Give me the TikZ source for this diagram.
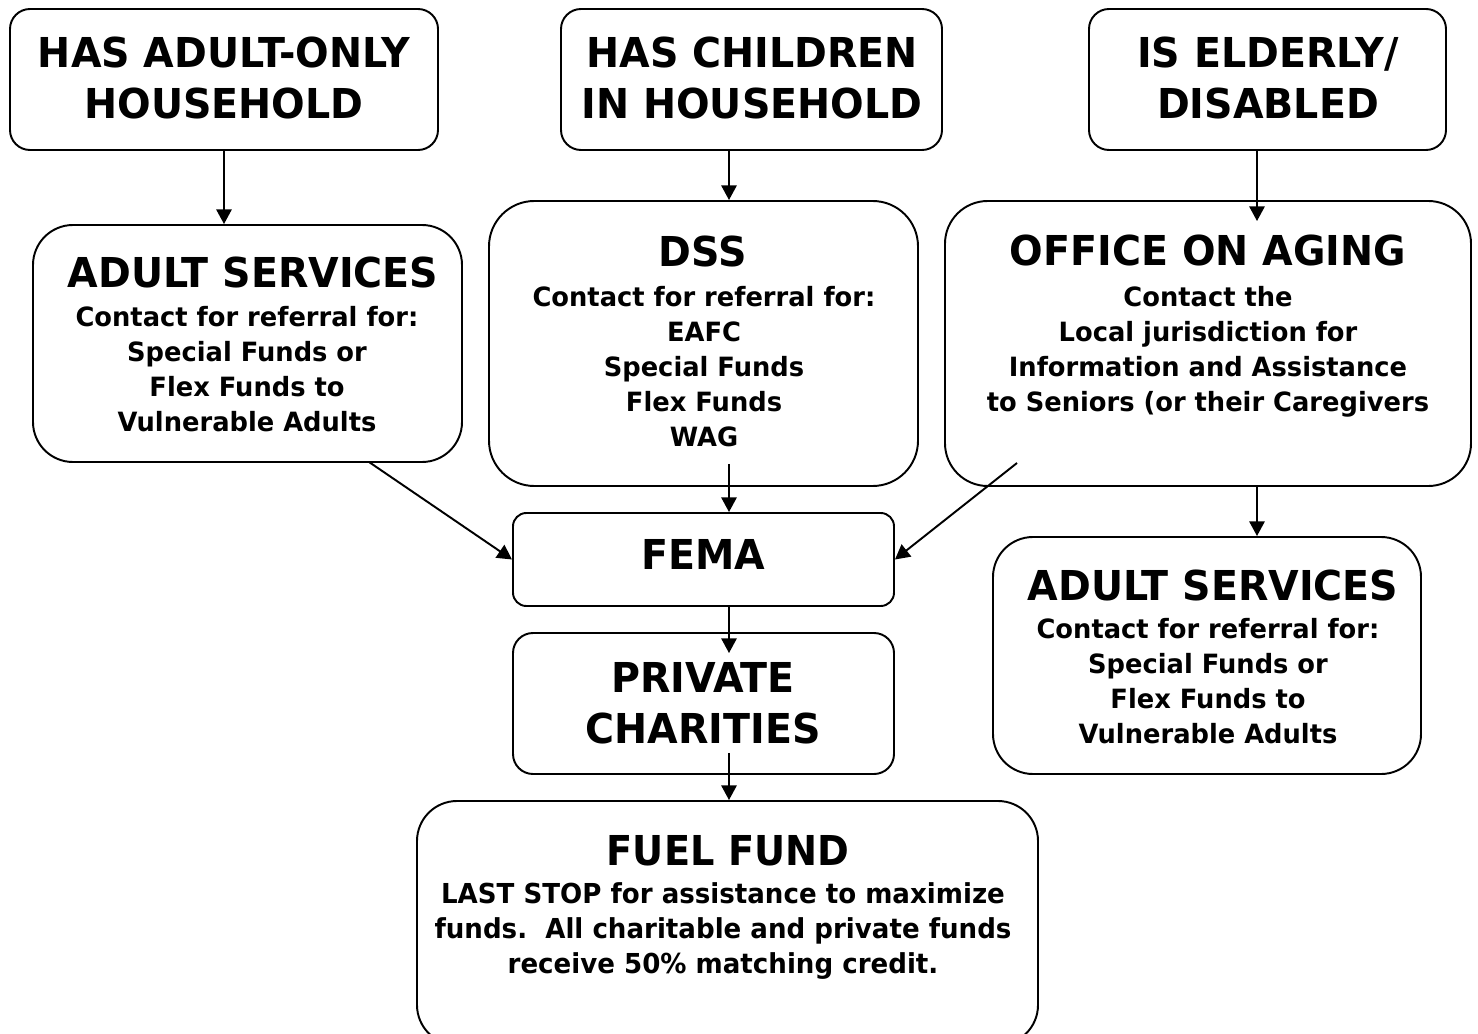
\documentclass[tikz,border=0pt]{standalone}
\usepackage{fontspec}
\newfontfamily\ttlfont{DejaVu Sans}[FakeStretch=0.96]
\newfontfamily\bodyfont{DejaVu Sans}[FakeStretch=0.97]
\newfontfamily\fuelfont{DejaVu Sans}[FakeStretch=0.95]
\newfontfamily\fueltfont{DejaVu Sans}[FakeStretch=0.93]
\usetikzlibrary{fit,calc,arrows.meta}
\begin{document}
\begin{tikzpicture}[x=0.75pt,y=-0.75pt,
  box/.style={draw,line width=1.45pt,inner sep=0pt,rounded corners=#1},
  box/.default=15pt,
  ttl/.style={anchor=north,inner sep=0pt,align=center,font=\ttlfont\bfseries\fontsize{30.9}{38.25}\selectfont},
  body/.style={anchor=north,inner sep=0pt,align=center,font=\bodyfont\bfseries\fontsize{19.9}{26.25}\selectfont},
  fuelbody/.style={anchor=north,inner sep=0pt,align=center,font=\fuelfont\bfseries\fontsize{20.6}{26.25}\selectfont},
  arr/.style={line width=1.45pt,-{Triangle[length=11pt,width=11.5pt]}}]
\useasboundingbox[fill=white] (0,0) rectangle (1478,1034);
% boxes
\node[box=15pt,fit={(10,9) (438,150)}] (b1) {};
\node[box=15pt,fit={(561,9) (942,150)}] (b2) {};
\node[box=15pt,fit={(1089,9) (1446,150)}] (b3) {};
\node[box=30pt,fit={(33,225) (462,462)}] (as1) {};
\node[box=34pt,fit={(489,201) (918,486)}] (dss) {};
\node[box=32pt,fit={(945,201) (1471,486)}] (oa) {};
\node[box=10pt,fit={(513,513) (894,606)}] (fema) {};
\node[box=15pt,fit={(513,633) (894,774)}] (pc) {};
\node[box=30pt,fit={(993,537) (1421,774)}] (as2) {};
\node[box=30pt,fit={(417,801) (1038,1045)}] (ff) {};
% texts
\node[ttl] (t1) at (224,37) {HAS ADULT-ONLY\\HOUSEHOLD};
\node[ttl] (t2) at (752,37) {HAS CHILDREN\\IN HOUSEHOLD};
\node[ttl] (t3) at (1268,37) {IS ELDERLY/\\DISABLED};
\node[ttl] (t4) at (253,257) {ADULT SERVICES};
\node[body] (t4b) at (247,306) {Contact for referral for:\\Special Funds or\\Flex Funds to\\Vulnerable Adults};
\node[ttl] (t5) at (703,236) {DSS};
\node[body] (t5b) at (704,286) {Contact for referral for:\\EAFC\\Special Funds\\Flex Funds\\WAG};
\node[ttl] (t6) at (1208,235) {OFFICE ON AGING};
\node[body] (t6b) at (1208,286) {Contact the\\Local jurisdiction for\\Information and Assistance\\to Seniors (or their Caregivers};
\node[ttl] (t7) at (703,539) {FEMA};
\node[ttl] (t8) at (703,662) {PRIVATE\\CHARITIES};
\node[ttl] (t9) at (1213,570) {ADULT SERVICES};
\node[body] (t9b) at (1208,618) {Contact for referral for:\\Special Funds or\\Flex Funds to\\Vulnerable Adults};
\node[ttl,font=\fueltfont\bfseries\fontsize{30.9}{38.25}\selectfont] (t10) at (728,835) {FUEL FUND};
\node[fuelbody] (t10b) at (723,882) {LAST STOP for assistance to maximize\\funds.\ \ All charitable and private funds\\receive 50\% matching credit.};
% reference x positions
\coordinate (xm) at (729,0);
\coordinate (xe) at (1257,0);
\coordinate (s5) at (369,462);
\coordinate (s6) at (1017,463);
% connectors
\draw[arr] (b1.south) -- (b1.south |- as1.north);
\draw[arr] (b2.south -| xm) -- (dss.north -| xm);
\draw[arr] (b3.south -| xe) -- ($(oa.north -| xe)+(0,21)$);
\draw[arr] ($(dss.south -| xm)+(0,-23)$) -- (fema.north -| xm);
\draw[arr] (s5) -- (fema.west);
\draw[arr] (s6) -- (fema.east);
\draw[arr] (oa.south -| xe) -- (as2.north -| xe);
\draw[arr] (fema.south -| xm) -- ($(pc.north -| xm)+(0,21)$);
\draw[arr] ($(pc.south -| xm)+(0,-22)$) -- (ff.north -| xm);
\end{tikzpicture}
\end{document}
